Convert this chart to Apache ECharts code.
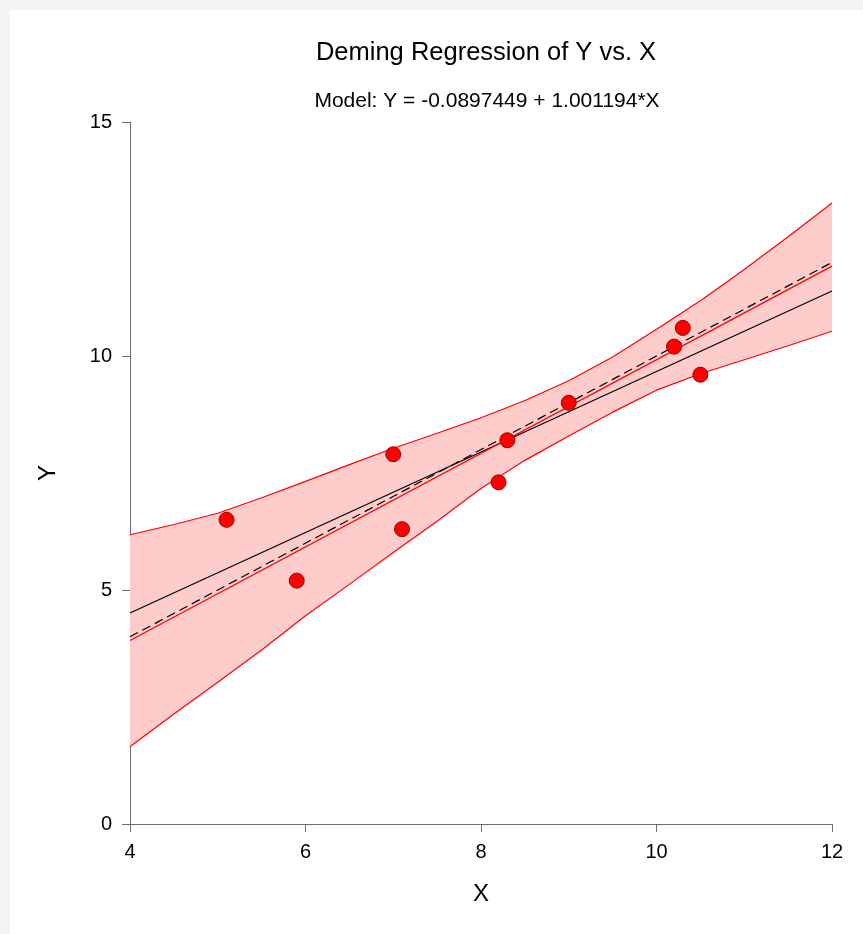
<!DOCTYPE html>
<html>
<head>
<meta charset="utf-8">
<script src="https://cdn.jsdelivr.net/npm/echarts@6/dist/echarts.min.js"></script>
<style>
  html, body { margin: 0; padding: 0; background: #f4f4f4; }
  #chart { position: absolute; left: 10px; top: 10px; width: 853px; height: 924px; background: #ffffff; }
</style>
</head>
<body>
<div id="chart"></div>
<script>
// ---- data ----
const pointX = [5.1, 5.9, 7.0, 7.1, 8.2, 8.3, 9.0, 10.2, 10.3, 10.5];
const pointY = [6.5, 5.2, 7.9, 6.3, 7.3, 8.2, 9.0, 10.2, 10.6, 9.6];

const bandX     = [4, 4.5, 5, 5.5, 6, 6.5, 7, 7.5, 8, 8.5, 9, 9.5, 10, 10.5, 11, 11.5, 12];
const bandUpper = [6.18, 6.40, 6.64, 6.97, 7.32, 7.68, 8.03, 8.35, 8.68, 9.05, 9.47, 9.98, 10.57, 11.18, 11.85, 12.55, 13.27];
const bandLower = [1.65, 2.35, 3.03, 3.72, 4.45, 5.12, 5.80, 6.47, 7.17, 7.77, 8.29, 8.80, 9.27, 9.62, 9.92, 10.22, 10.53];

const demingLine   = [[4, 3.92], [12, 11.92]];
const olsLine      = [[4, 4.51], [12, 11.39]];
const identityLine = [[4, 4.0], [12, 12.0]];

const xTicks = { min: 4, max: 12, interval: 2 };
const yTicks = { min: 0, max: 15, interval: 5 };

const titleText = 'Deming Regression of Y vs. X';
const subtitleText = 'Model: Y = -0.0897449 + 1.001194*X';

// ---- chart ----
const FONT = '"Liberation Sans", Arial, sans-serif';
const chart = echarts.init(document.getElementById('chart'), null, { renderer: 'canvas' });

const upperData = bandX.map((x, i) => [x, bandUpper[i]]);
const lowerData = bandX.map((x, i) => [x, bandLower[i]]);
const scatterData = pointX.map((x, i) => [x, pointY[i]]);

const axisLineStyle = { color: '#6e6e6e', width: 1 };

chart.setOption({
  animation: false,
  backgroundColor: '#ffffff',
  title: [
    { text: titleText, left: 471, top: 25, textAlign: 'center',
      textStyle: { fontFamily: FONT, fontSize: 25.5, fontWeight: 'normal', color: '#000' } },
    { text: subtitleText, left: 472, top: 76, textAlign: 'center',
      textStyle: { fontFamily: FONT, fontSize: 21, fontWeight: 'normal', color: '#000' } }
  ],
  grid: { left: 120, top: 112, right: 31, bottom: 110, containLabel: false },
  xAxis: {
    type: 'value', min: xTicks.min, max: xTicks.max, interval: xTicks.interval,
    name: 'X', nameLocation: 'middle', nameGap: 58,
    nameTextStyle: { fontFamily: FONT, fontSize: 24, color: '#000' },
    axisLine: { show: true, onZero: false, lineStyle: axisLineStyle },
    axisTick: { show: true, inside: false, length: 8, lineStyle: axisLineStyle },
    axisLabel: { fontFamily: FONT, fontSize: 20, color: '#000', margin: 18 },
    splitLine: { show: false }
  },
  yAxis: {
    type: 'value', min: yTicks.min, max: yTicks.max, interval: yTicks.interval,
    name: 'Y', nameLocation: 'middle', nameGap: 70,
    nameTextStyle: { fontFamily: FONT, fontSize: 24, color: '#000' },
    axisLine: { show: true, onZero: false, lineStyle: axisLineStyle },
    axisTick: { show: true, inside: false, length: 8, lineStyle: axisLineStyle },
    axisLabel: { fontFamily: FONT, fontSize: 20, color: '#000', margin: 18 },
    splitLine: { show: false }
  },
  series: [
    {
      type: 'custom',
      name: 'band',
      silent: true,
      z: 1,
      data: [0],
      renderItem: function (params, api) {
        const pts = [];
        for (let i = 0; i < bandX.length; i++) pts.push(api.coord([bandX[i], bandUpper[i]]));
        for (let i = bandX.length - 1; i >= 0; i--) pts.push(api.coord([bandX[i], bandLower[i]]));
        return { type: 'polygon', shape: { points: pts }, style: { fill: '#ffcccc', stroke: null } };
      }
    },
    { type: 'line', name: 'upper', data: upperData, symbol: 'none', z: 2,
      lineStyle: { color: '#ff0000', width: 1.2 } },
    { type: 'line', name: 'lower', data: lowerData, symbol: 'none', z: 2,
      lineStyle: { color: '#ff0000', width: 1.2 } },
    { type: 'line', name: 'identity', data: identityLine, symbol: 'none', z: 3,
      lineStyle: { color: '#000000', width: 1.2, type: [9, 5] } },
    { type: 'line', name: 'ols', data: olsLine, symbol: 'none', z: 3,
      lineStyle: { color: '#000000', width: 1.2 } },
    { type: 'line', name: 'deming', data: demingLine, symbol: 'none', z: 4,
      lineStyle: { color: '#ff0000', width: 1.3 } },
    { type: 'scatter', name: 'points', data: scatterData, symbol: 'circle', symbolSize: 15, z: 5,
      itemStyle: { color: '#ff0000', borderColor: '#9a0000', borderWidth: 1, opacity: 1 } }
  ]
});
</script>
</body>
</html>
